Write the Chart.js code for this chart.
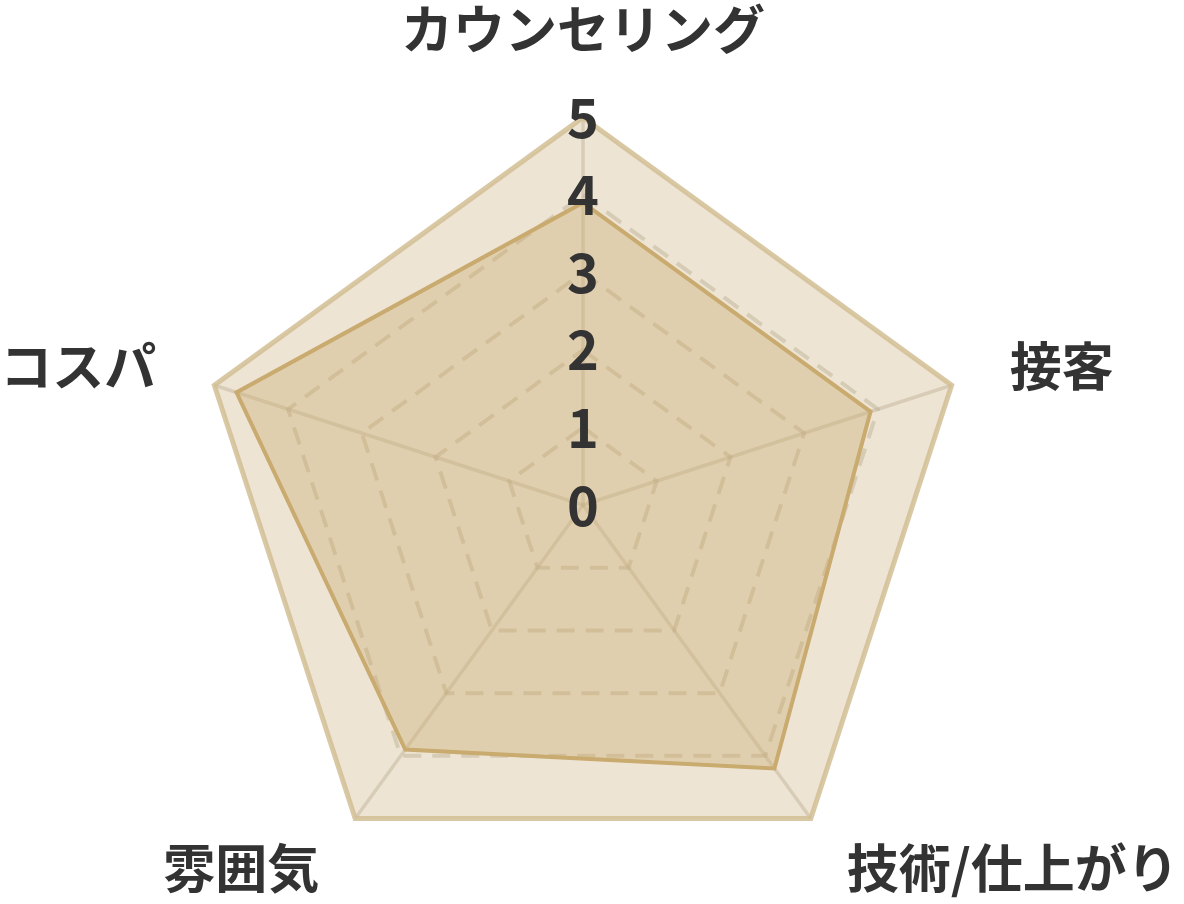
<!DOCTYPE html>
<html>
<head>
<meta charset="utf-8">
<script src="https://cdn.jsdelivr.net/npm/chart.js@4"></script>
<style>
  html, body { margin: 0; padding: 0; background: #ffffff; width: 1184px; height: 904px; overflow: hidden; }
  #view { position: relative; width: 1184px; height: 904px; overflow: hidden; }
  #wrap { position: absolute; left: -117px; top: -47px; width: 1400px; height: 1014px; }
</style>
</head>
<body>
<div id="view"><div id="wrap"><canvas id="c"></canvas></div></div>
<script>
const categories = ['カウンセリング', '接客', '技術/仕上がり', '雰囲気', 'コスパ'];
const ratings = [3.9, 3.9, 4.2, 3.9, 4.7];
const fullScore = [5, 5, 5, 5, 5];
const tickValues = [0, 1, 2, 3, 4, 5];

const FONT = '"Noto Sans CJK JP", "Noto Sans", sans-serif';
const TICK_SIZE = 54;
const LABEL_SIZE = 52;

const zeroLabel = {
  id: 'zeroLabel',
  afterDraw(chart) {
    const s = chart.scales.r;
    const ctx = chart.ctx;
    ctx.save();
    ctx.font = 'bold ' + TICK_SIZE + 'px ' + FONT;
    ctx.fillStyle = '#333333';
    ctx.textAlign = 'center';
    ctx.textBaseline = 'middle';
    ctx.fillText(String(tickValues[0]), s.xCenter, s.yCenter);
    ctx.restore();
  }
};

new Chart(document.getElementById('c'), {
  type: 'radar',
  data: {
    labels: categories,
    datasets: [
      {
        data: ratings,
        backgroundColor: 'rgba(200,165,95,0.32)',
        borderColor: '#c9aa6f',
        borderWidth: 4,
        pointRadius: 0,
        fill: true
      },
      {
        data: fullScore,
        backgroundColor: 'rgba(214,196,158,0.45)',
        borderColor: 'rgba(210,190,148,0.85)',
        borderWidth: 5,
        pointRadius: 0,
        fill: true
      }
    ]
  },
  options: {
    responsive: true,
    maintainAspectRatio: false,
    animation: false,
    plugins: { legend: false, title: false, subtitle: false, tooltip: { enabled: false } },
    layout: { padding: 0 },
    scales: {
      r: {
        z: 1,
        min: tickValues[0],
        max: tickValues[tickValues.length - 1],
        ticks: {
          stepSize: 1,
          color: '#333333',
          showLabelBackdrop: false,
          z: 1,
          font: { size: TICK_SIZE, weight: 'bold', family: FONT }
        },
        grid: {
          color: (ctx) => ctx.tick && ctx.tick.value === 5 ? 'rgba(0,0,0,0)' : 'rgba(165,155,135,0.45)',
          lineWidth: 4
        },
        border: { dash: [18, 11] },
        angleLines: { color: 'rgba(170,160,145,0.45)', lineWidth: 3.5 },
        pointLabels: {
          color: '#333333',
          font: (ctx) => ({
            size: LABEL_SIZE,
            weight: 'bold',
            family: FONT,
            lineHeight: ctx.index === 0 ? 1.2 : '1px'
          }),
          padding: (ctx) => ctx.index === 0 ? 28 : 32
        }
      }
    }
  },
  plugins: [zeroLabel]
});
</script>
</body>
</html>
